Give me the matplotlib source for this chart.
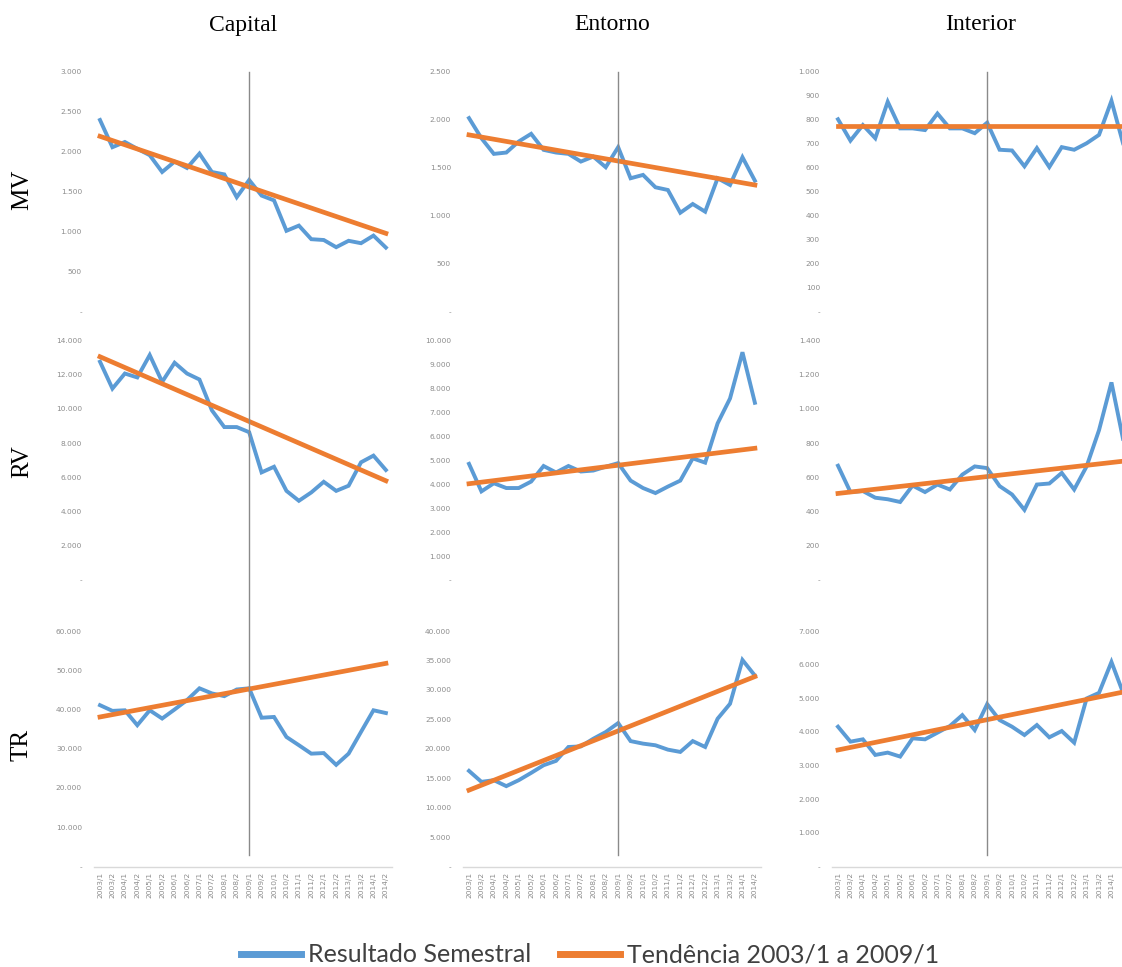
import matplotlib
matplotlib.use("Agg")
import matplotlib.pyplot as plt
from matplotlib import transforms
from matplotlib.lines import Line2D
from matplotlib.ticker import FuncFormatter, MultipleLocator

semestres = ["2003/1", "2003/2", "2004/1", "2004/2", "2005/1", "2005/2",
             "2006/1", "2006/2", "2007/1", "2007/2", "2008/1", "2008/2",
             "2009/1", "2009/2", "2010/1", "2010/2", "2011/1", "2011/2",
             "2012/1", "2012/2", "2013/1", "2013/2", "2014/1", "2014/2"]
colunas = ["Capital", "Entorno", "Interior"]
linhas = ["MV", "RV", "TR"]

# resultado semestral
mv_capital = [2400, 2060, 2125, 2040, 1960, 1750, 1880, 1800, 1980, 1750, 1720, 1435,
              1650, 1455, 1395, 1015, 1080, 910, 900, 810, 890, 860, 955, 805]
mv_entorno = [2020, 1810, 1647, 1661, 1776, 1856, 1689, 1661, 1647, 1567, 1619, 1508,
              1717, 1393, 1428, 1299, 1271, 1034, 1125, 1045, 1393, 1323, 1612, 1368]
mv_interior = [803, 714, 779, 724, 876, 765, 765, 758, 827, 765, 765, 745,
               789, 676, 673, 607, 683, 604, 687, 676, 703, 738, 880, 690]
rv_capital = [12760, 11190, 12070, 11840, 13150, 11580, 12700, 12070, 11720, 9920, 8940, 8940,
              8640, 6290, 6620, 5210, 4630, 5120, 5740, 5210, 5510, 6880, 7270, 6430]
rv_entorno = [4850, 3700, 4040, 3840, 3840, 4110, 4760, 4490, 4760, 4530, 4570, 4730,
              4880, 4150, 3840, 3630, 3900, 4150, 5080, 4900, 6540, 7580, 9510, 7400]
rv_interior = [668, 514, 520, 481, 472, 456, 552, 514, 558, 529, 616, 664,
               654, 549, 500, 410, 558, 564, 626, 529, 664, 876, 1155, 800]
tr_capital = [41100, 39650, 39800, 36000, 39800, 37700, 40000, 42400, 45400, 44100, 43400, 45100,
              45400, 37900, 38100, 33000, 30900, 28750, 28900, 25900, 28750, 34300, 39800, 39100]
tr_entorno = [16240, 14380, 14660, 13650, 14660, 15900, 17200, 17940, 20300, 20400, 21700, 22840,
              24360, 21300, 20870, 20590, 19850, 19460, 21300, 20300, 25100, 27640, 35080, 32430]
tr_interior = [4155, 3711, 3780, 3316, 3385, 3267, 3810, 3780, 3978, 4175, 4500, 4057,
               4826, 4353, 4155, 3908, 4205, 3840, 4027, 3681, 4994, 5162, 6080, 5100]

# tendencia 2003/1 a 2009/1 (inicio, fim)
tend_mv = [[2196, 983], [1845, 1323], [775, 775]]
tend_rv = [[13050, 5800], [4020, 5500], [506, 695]]
tend_tr = [[38100, 51750], [12970, 32260], [3464, 5190]]

serie = [[mv_capital, mv_entorno, mv_interior],
         [rv_capital, rv_entorno, rv_interior],
         [tr_capital, tr_entorno, tr_interior]]
tendencia = [tend_mv, tend_rv, tend_tr]

y_max = [[3000, 2500, 1000], [14000, 10000, 1400], [60000, 40000, 7000]]
y_passo = [[500, 500, 100], [2000, 1000, 200], [10000, 5000, 1000]]

azul = "#5B9BD5"
laranja = "#ED7D31"
cinza_txt = "#8c8c8c"

W, H = 1122, 967
fig = plt.figure(figsize=(W / 100, H / 100), dpi=100)

x0 = [100, 469, 838]
dx = 12.43
row_px = [(72, 312), (340.5, 580), (631, 866.5)]


def fmt(v, pos):
    if v == 0:
        return "-"
    return f"{v:,.0f}".replace(",", ".")


axes = [[None] * 3 for _ in range(3)]
for r in range(3):
    top, bot = row_px[r]
    for c in range(3):
        left = x0[c] - 0.5 * dx
        ax = fig.add_axes([left / W, 1 - bot / H, 24 * dx / W, (bot - top) / H])
        axes[r][c] = ax
        x = list(range(len(semestres)))
        ax.plot(x, serie[r][c], color=azul, lw=2.8, solid_joinstyle="miter", zorder=3)
        ax.plot([0, len(semestres) - 1], tendencia[r][c], color=laranja, lw=3.4, zorder=4)
        ax.set_xlim(-0.5, len(semestres) - 0.5)
        ax.set_ylim(0, y_max[r][c])
        ax.yaxis.set_major_locator(MultipleLocator(y_passo[r][c]))
        ax.yaxis.set_major_formatter(FuncFormatter(fmt))
        for s in ax.spines.values():
            s.set_visible(False)
        ax.tick_params(axis="y", length=0, pad=8.5, labelsize=5.3, labelcolor=cinza_txt)
        ax.set_facecolor("none")
        if r == 2:
            ax.spines["bottom"].set_visible(True)
            ax.spines["bottom"].set_color("#d9d9d9")
            ax.spines["bottom"].set_linewidth(1)
            ax.set_xticks(x)
            rotulos = list(semestres)
            if c == 2:
                # o ultimo semestre fica fora da imagem no original
                rotulos[-1] = ""
            ax.set_xticklabels(rotulos, rotation=90, fontsize=5.4, color=cinza_txt)
            ax.tick_params(axis="x", length=0, pad=4)
        else:
            ax.set_xticks([])

# linha vertical em 2009/1 atravessando as tres linhas
for c in range(3):
    tr = transforms.blended_transform_factory(axes[0][c].transData, fig.transFigure)
    fig.add_artist(Line2D([12, 12], [1 - 72 / H, 1 - 855 / H], transform=tr,
                          color="#8a8a8a", lw=1, zorder=2))

serif = ["Liberation Serif", "DejaVu Serif"]
for c, nome in enumerate(colunas):
    xc = x0[c] + 11.5 * dx
    fig.text(xc / W, 1 - 25 / H, nome, ha="center", va="center", fontsize=17, family=serif)
row_y = [190, 462, 745]
for r, nome in enumerate(linhas):
    fig.text(22 / W, 1 - row_y[r] / H, nome, ha="center", va="center", rotation=90,
             fontsize=18, family=serif)

handles = [Line2D([], [], color=azul, lw=5), Line2D([], [], color=laranja, lw=5)]
fig.legend(handles, ["Resultado Semestral", "Tendência 2003/1 a 2009/1"],
           loc="center", bbox_to_anchor=(590 / W, 1 - 955 / H), ncol=2, frameon=False,
           prop={"family": ["Lato", "DejaVu Sans"], "size": 18},
           handlelength=2.4, handletextpad=0.3, columnspacing=1.12,
           labelcolor="#404040")

fig.savefig("out.png", dpi=100)
